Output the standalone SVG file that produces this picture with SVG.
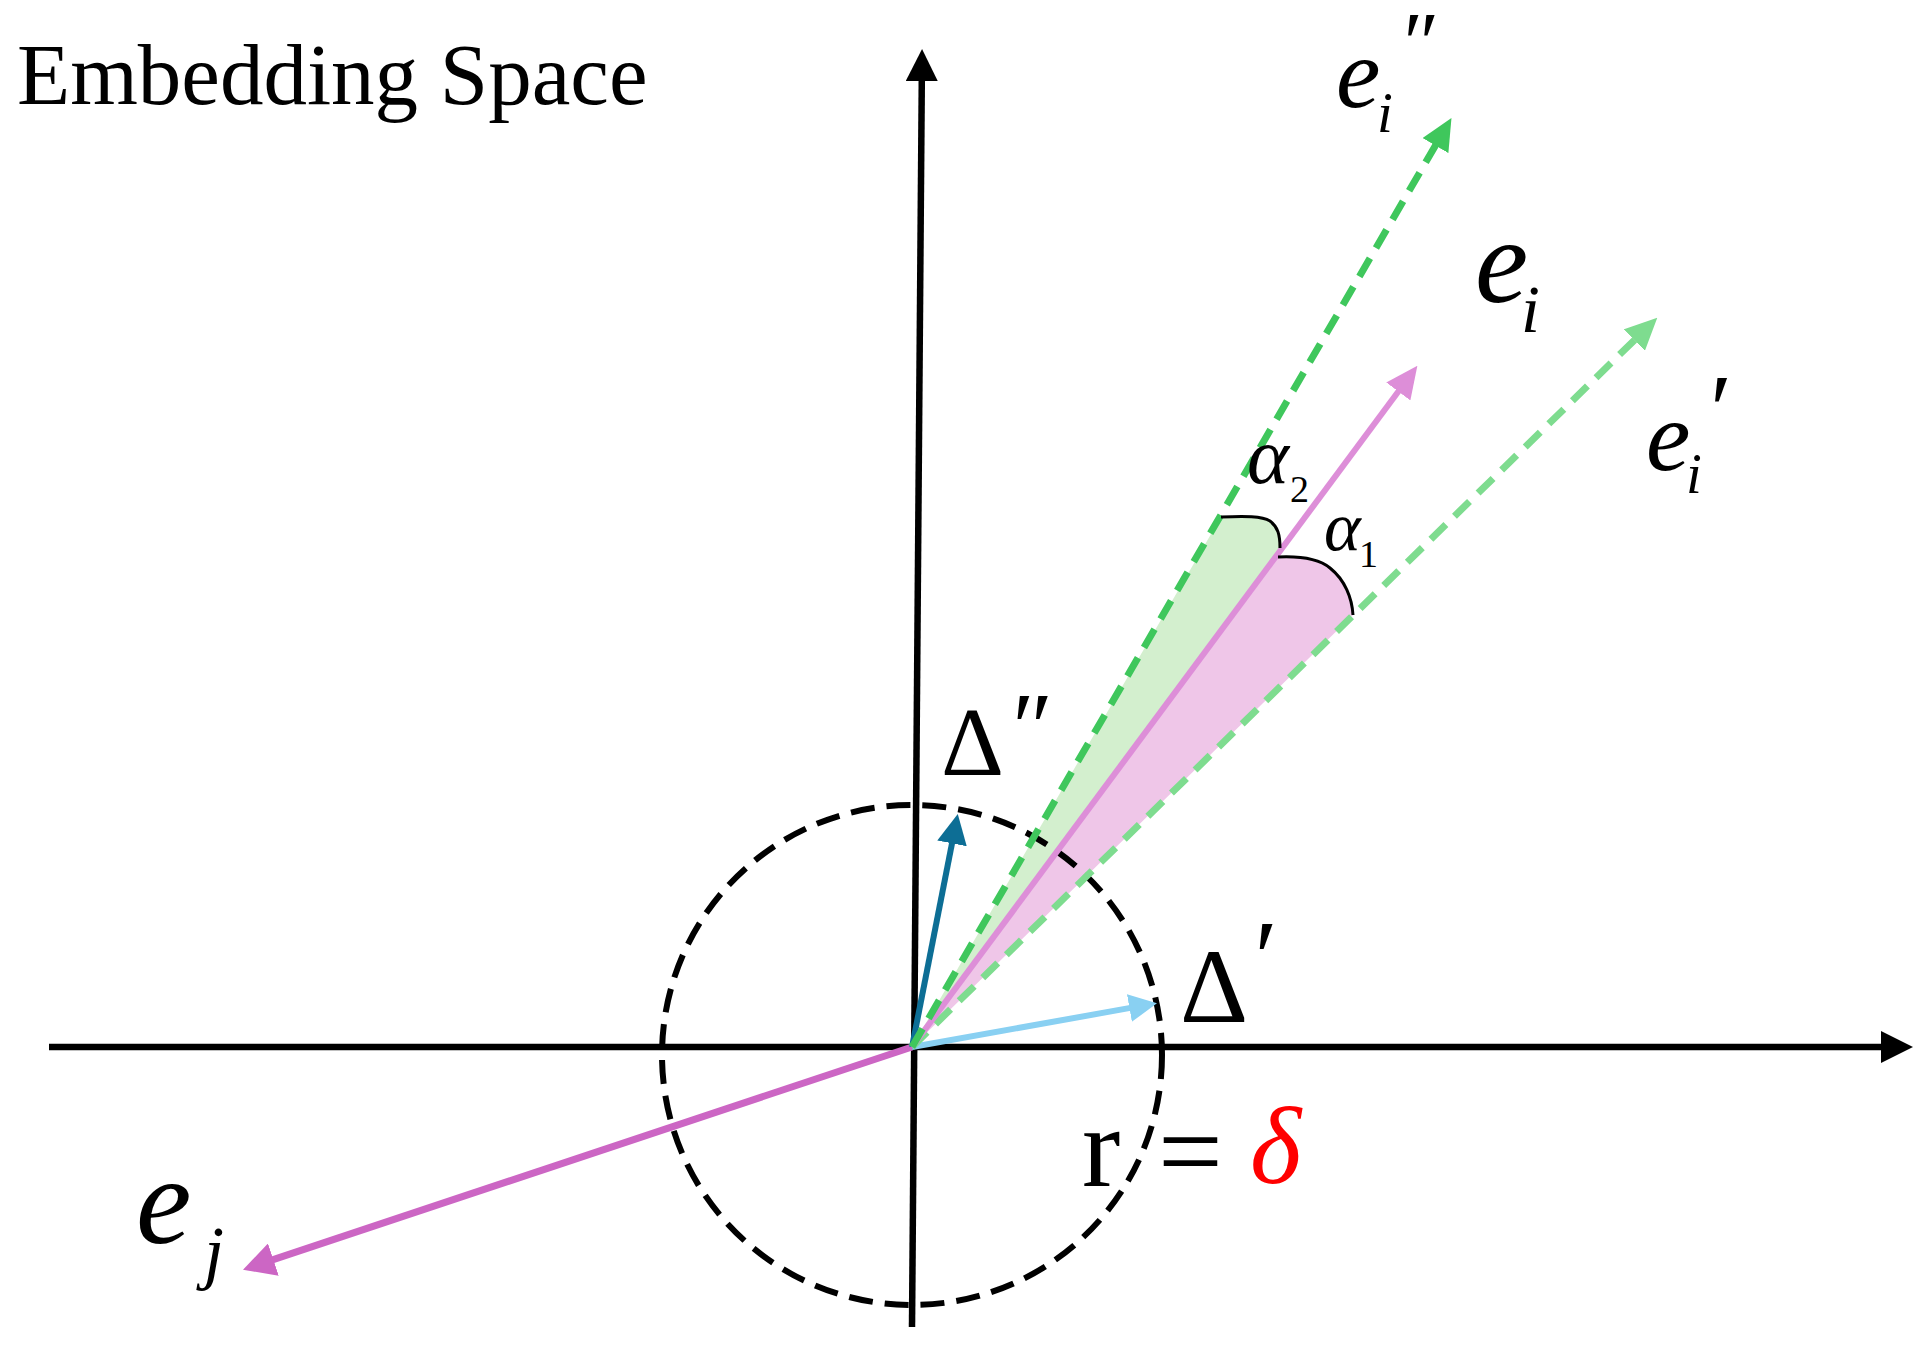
<svg xmlns="http://www.w3.org/2000/svg" width="1931" height="1363" viewBox="0 0 1931 1363">
<style>
text{font-family:"Liberation Serif","Times New Roman",serif;fill:#000}
.it{font-style:italic}
.ax{stroke:#000;stroke-width:6.5;fill:none}
.dash{stroke-dasharray:21 12;fill:none}
</style>
<defs>
<marker id="mBlack" markerUnits="userSpaceOnUse" markerWidth="32" markerHeight="32" viewBox="0 0 32 32" refX="1" refY="16" orient="auto"><path d="M0,0 L32,16 L0,32 Z" fill="#000"/></marker>
<marker id="mG2" markerUnits="userSpaceOnUse" markerWidth="32" markerHeight="30" viewBox="0 0 32 30" refX="1" refY="15" orient="auto"><path d="M0,0 L32,15 L0,30 Z" fill="#3fc75c"/></marker>
<marker id="mG1" markerUnits="userSpaceOnUse" markerWidth="32" markerHeight="30" viewBox="0 0 32 30" refX="1" refY="15" orient="auto"><path d="M0,0 L32,15 L0,30 Z" fill="#7edc8f"/></marker>
<marker id="mPi" markerUnits="userSpaceOnUse" markerWidth="32" markerHeight="30" viewBox="0 0 32 30" refX="1" refY="15" orient="auto"><path d="M0,0 L32,15 L0,30 Z" fill="#dd8ed8"/></marker>
<marker id="mPj" markerUnits="userSpaceOnUse" markerWidth="32" markerHeight="34" viewBox="0 0 32 34" refX="1" refY="17" orient="auto"><path d="M0,0 L32,17 L0,34 Z" fill="#cc66c4"/></marker>
<marker id="mD2" markerUnits="userSpaceOnUse" markerWidth="30" markerHeight="30" viewBox="0 0 30 30" refX="1" refY="15" orient="auto"><path d="M0,0 L30,15 L0,30 Z" fill="#0d6e95"/></marker>
<marker id="mD1" markerUnits="userSpaceOnUse" markerWidth="28" markerHeight="28" viewBox="0 0 28 28" refX="1" refY="14" orient="auto"><path d="M0,0 L28,14 L0,28 Z" fill="#89d0f2"/></marker>
</defs>
<rect width="1931" height="1363" fill="#fff"/>

<g id="title"><text x="17" y="104" font-size="87">Embedding Space</text></g>

<g id="wedges">
<path id="wedge-alpha2" d="M912,1047 L1221,517 C1245,516 1262,516 1270,521 C1278,527 1280,535 1280,548 Z" fill="#d3efce"/>
<path id="wedge-alpha1" d="M912,1047 L1278,557 C1300,556 1318,558 1330,568 C1345,580 1352,598 1353,615 Z" fill="#efc6e8"/>
</g>

<g id="circle"><circle cx="912" cy="1055" r="250" fill="none" stroke="#000" stroke-width="6" stroke-dasharray="24 12"/></g>

<g id="connectors">
<line id="x-axis" class="ax" x1="49" y1="1047" x2="1882" y2="1047" marker-end="url(#mBlack)"/>
<line id="y-axis" class="ax" x1="912" y1="1327" x2="921.8" y2="80" marker-end="url(#mBlack)"/>
<line id="vec-ej" x1="912" y1="1047" x2="272.4" y2="1259.9" stroke="#cc66c4" stroke-width="7" marker-end="url(#mPj)"/>
<line id="vec-delta2" x1="912" y1="1047" x2="952.2" y2="842.4" stroke="#0d6e95" stroke-width="6" marker-end="url(#mD2)"/>
<line id="vec-delta1" x1="912" y1="1047" x2="1130.4" y2="1007.9" stroke="#89d0f2" stroke-width="6" marker-end="url(#mD1)"/>
<line id="vec-ei1" class="dash" x1="912" y1="1047" x2="1635.1" y2="339.4" stroke="#7edc8f" stroke-width="7" marker-end="url(#mG1)"/>
<line id="vec-ei" x1="912" y1="1047" x2="1398.9" y2="390.7" stroke="#dd8ed8" stroke-width="6" marker-end="url(#mPi)"/>
<line id="vec-ei2" class="dash" x1="912" y1="1047" x2="1435.9" y2="144.7" stroke="#3fc75c" stroke-width="7" marker-end="url(#mG2)"/>
<path id="brace-alpha2" d="M1221,517 C1245,516 1262,516 1270,521 C1278,527 1280,535 1280,548" fill="none" stroke="#000" stroke-width="3"/>
<path id="brace-alpha1" d="M1278,557 C1300,556 1318,558 1330,568 C1345,580 1352,598 1353,615" fill="none" stroke="#000" stroke-width="3"/>
</g>

<g id="label-ei2"><text class="it" x="1336" y="107" font-size="100">e</text><text class="it" x="1377" y="132" font-size="57">i</text><text class="it" x="1398" y="72" font-size="86">″</text></g>
<g id="label-ei"><text class="it" x="1475" y="302" font-size="120">e</text><text class="it" x="1521" y="332" font-size="68">i</text></g>
<g id="label-ei1"><text class="it" x="1646" y="470" font-size="100">e</text><text class="it" x="1686" y="493" font-size="57">i</text><text class="it" x="1704" y="443" font-size="100">′</text></g>
<g id="label-alpha2"><text class="it" x="1247" y="483" font-size="80">α</text><text x="1290" y="502" font-size="38">2</text></g>
<g id="label-alpha1"><text class="it" x="1324" y="550" font-size="70">α</text><text x="1359" y="567" font-size="38">1</text></g>
<g id="label-delta2"><text x="941" y="775" font-size="98">Δ</text><text class="it" x="1006" y="760" font-size="98">″</text></g>
<g id="label-delta1"><text x="1180" y="1022" font-size="106">Δ</text><text class="it" x="1248" y="994" font-size="106">′</text></g>
<g id="label-r"><text x="1082" y="1186" font-size="115">r</text><text x="1158" y="1190" font-size="115">=</text><text class="it" x="1250" y="1183" font-size="110" style="fill:#ff0000">δ</text></g>
<g id="label-ej"><text class="it" x="136" y="1243" font-size="125">e</text><text class="it" x="204" y="1276" font-size="72">j</text></g>
</svg>
